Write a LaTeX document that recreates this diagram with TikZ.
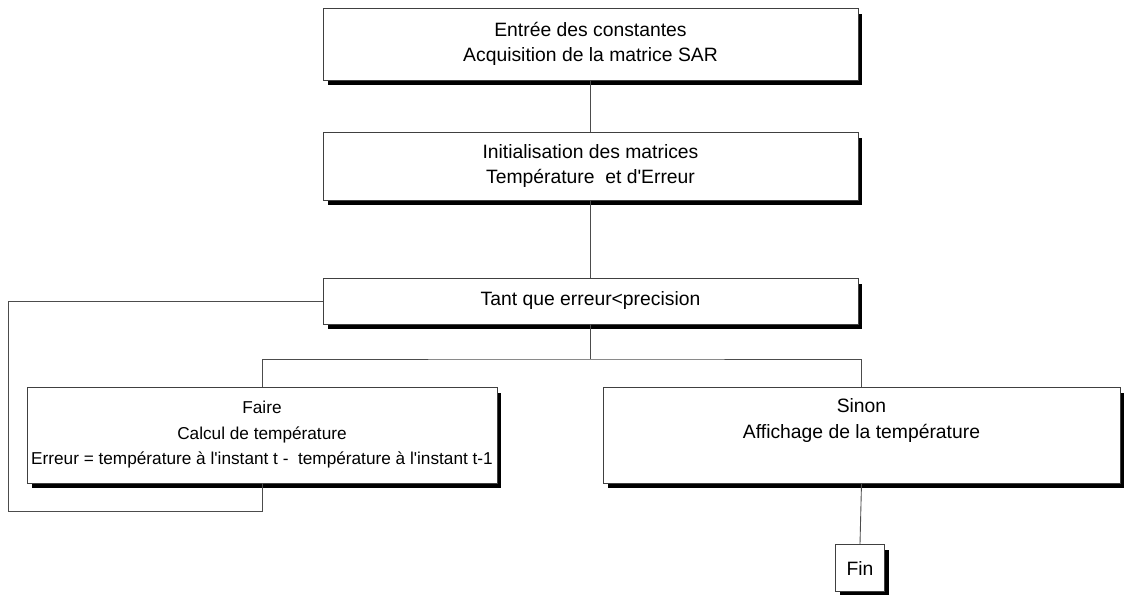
\documentclass[tikz,border=0pt]{standalone}
\usepackage{fontspec}
\setmainfont{Liberation Sans}
\usetikzlibrary{shadows}

\tikzset{
  blocbox/.style={draw=black!75, line width=0.5pt, fill=white, align=center,
    font=\fontsize{11}{14.5}\selectfont, inner sep=2pt,
    drop shadow={shadow xshift=0.09cm, shadow yshift=-0.11cm, opacity=1, fill=black}},
  petit/.style={font=\fontsize{9.8}{14.5}\selectfont},
  lien/.style={draw=black!70, line width=0.5pt}
}

\begin{document}
\begin{tikzpicture}[x=0.02cm, y=-0.02cm]
\useasboundingbox (0,0) rectangle (1134,595);
\node[blocbox, minimum width=10.7cm, minimum height=1.44cm] (entree) at (590.5,44) {Entrée des constantes\\Acquisition de la matrice SAR};
\node[blocbox, minimum width=10.7cm, minimum height=1.36cm] (init) at (590.5,166) {Initialisation des matrices\\Température\ \ et d\textquotesingle Erreur};
\node[blocbox, minimum width=10.7cm, minimum height=0.92cm] (tant) at (590.5,301) {Tant que erreur<precision};
\node[blocbox, petit, minimum width=9.4cm, minimum height=1.92cm] (faire) at (262,435) {Faire\\Calcul de température\\Erreur = température à l\textquotesingle instant t -\ \ température à l\textquotesingle instant t-1};
\node[blocbox, minimum width=10.34cm, minimum height=1.92cm] (sinon) at (861.5,435) {Sinon\\Affichage de la température\\\strut};
\node[blocbox, minimum width=0.98cm, minimum height=0.94cm] (fin) at (860,568) {Fin};
\coordinate (branche) at (590.5,359);
\coordinate (boucle) at (8,511);
\draw[lien] (entree.south) -- (init.north);
\draw[lien] (init.south) -- (tant.north);
\draw[lien] (tant.south) -- (branche);
\draw[lien] (faire.north) |- (branche) -| (sinon.north);
\draw[lien] (sinon.south) -- (fin.north);
\draw[lien] (faire.south) |- (boucle) |- (tant.west);
\end{tikzpicture}
\end{document}
